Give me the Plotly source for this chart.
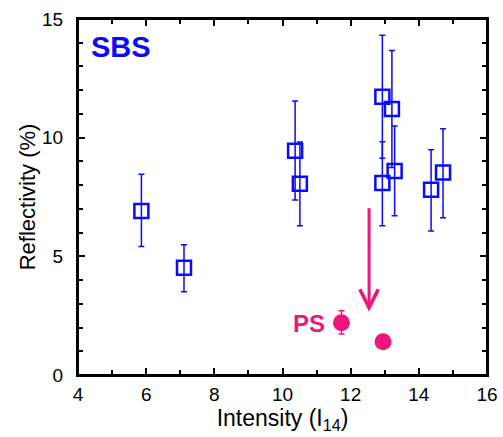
import plotly.graph_objects as go

# SBS data (Intensity in I14, reflectivity %)
sbs_x = [5.86, 7.11, 10.37, 10.51, 12.93, 12.93, 13.21, 13.29, 14.36, 14.71]
sbs_y = [6.91, 4.52, 9.45, 8.06, 11.72, 8.09, 11.21, 8.60, 7.81, 8.53]
sbs_err_plus = [1.55, 0.97, 2.10, 1.76, 2.60, 1.74, 2.46, 1.89, 1.68, 1.85]
sbs_err_minus = [1.50, 1.01, 2.08, 1.77, 2.59, 1.80, 2.47, 1.89, 1.74, 1.90]

# PS data
ps_x = [11.73, 12.95]
ps_y = [2.20, 1.40]
ps_err_plus = [0.51, 0.0]
ps_err_minus = [0.47, 0.0]

# arrow (start -> tip)
arrow_x = [12.54, 12.54]
arrow_y = [7.09, 2.67]

# label positions
sbs_label = (5.27, 13.82)
ps_label = (10.77, 2.18)

x_range = [4, 16]
y_range = [0, 15]

BLUE = "#0a0aff"
PINK = "#f0147c"
FONT = "Liberation Sans, Arial, sans-serif"

fig = go.Figure()
fig.add_trace(go.Scatter(
    x=sbs_x, y=sbs_y, mode="markers",
    marker=dict(symbol="square-open", size=14, color=BLUE, line=dict(width=2.5, color=BLUE)),
    error_y=dict(type="data", symmetric=False, array=sbs_err_plus, arrayminus=sbs_err_minus,
                 color=BLUE, thickness=1.5, width=3),
    showlegend=False,
))
fig.add_trace(go.Scatter(
    x=ps_x, y=ps_y, mode="markers",
    marker=dict(symbol="circle", size=17, color=PINK),
    error_y=dict(type="data", symmetric=False, array=ps_err_plus, arrayminus=ps_err_minus,
                 color=PINK, thickness=1.5, width=3),
    showlegend=False,
))

fig.add_annotation(x=sbs_label[0], y=sbs_label[1], text="<b>SBS</b>", showarrow=False,
                   font=dict(family=FONT, size=29, color=BLUE), xanchor="center", yanchor="middle")
fig.add_annotation(x=ps_label[0], y=ps_label[1], text="<b>PS</b>", showarrow=False,
                   font=dict(family=FONT, size=24, color=PINK), xanchor="center", yanchor="middle")
fig.add_annotation(x=arrow_x[1], y=arrow_y[1], ax=arrow_x[0], ay=arrow_y[0],
                   axref="x", ayref="y", xref="x", yref="y", text="", showarrow=True,
                   arrowhead=5, arrowsize=1.2, arrowwidth=3, arrowcolor=PINK, standoff=0)

# plot frame (box around the plotting area)
fig.add_shape(type="rect", xref="x domain", yref="y domain", x0=0, x1=1, y0=0, y1=1,
              line=dict(color="black", width=2), layer="above")

tickfont = dict(family=FONT, size=19, color="black")
base = dict(showgrid=False, zeroline=False, automargin=False, tickwidth=2, tickcolor="black",
            linecolor="black", linewidth=2, showline=True, mirror="allticks",
            ticks="inside", ticklen=7, tickfont=tickfont)

fig.update_layout(
    width=503, height=437,
    margin=dict(l=78, r=16, t=19, b=62),
    plot_bgcolor="white", paper_bgcolor="white",
    xaxis=dict(range=x_range, tickmode="linear", tick0=4, dtick=2,
               minor=dict(tick0=4, dtick=1, ticks="inside", ticklen=5, tickwidth=2, tickcolor="black"),
               ticklabelstandoff=1,
               title=dict(text="Intensity (I<sub>14</sub>)", font=dict(family=FONT, size=23, color="black"),
                          standoff=3),
               **base),
    yaxis=dict(range=y_range, tickmode="linear", tick0=0, dtick=5,
               minor=dict(tick0=0, dtick=1, ticks="inside", ticklen=5, tickwidth=2, tickcolor="black"),
               ticklabelstandoff=9,
               title=dict(text="Reflectivity (%)", font=dict(family=FONT, size=22, color="black"),
                          standoff=0),
               **base),
)

fig.write_html("out.html")
